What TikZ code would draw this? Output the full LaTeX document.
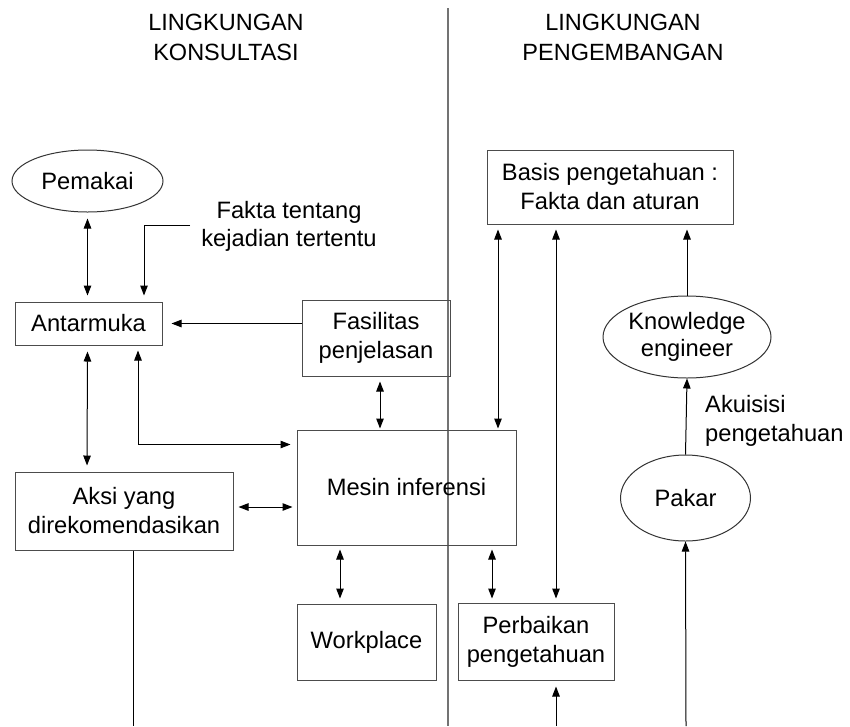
\documentclass[tikz,border=0pt]{standalone}
\usepackage{fontspec}
\setmainfont{Liberation Sans}
\usetikzlibrary{shapes.geometric,arrows.meta,calc}
\begin{document}
\begin{tikzpicture}[x=1pt,y=-1pt,
  txt/.style={font=\fontsize{23.7}{29}\selectfont, align=center, inner sep=0pt},
  boxn/.style={txt, draw=black!70, line width=1pt, rectangle},
  elln/.style={txt, draw=black!80, line width=1pt, ellipse},
  con/.style={line width=1pt, black},
  tip/.style={-{Triangle[length=10pt,width=7.5pt]}},
  bi/.style={{Triangle[length=10pt,width=7.5pt]}-{Triangle[length=10pt,width=7.5pt]}}
]
\useasboundingbox (0,0) rectangle (850,726);
\fill[white] (0,0) rectangle (850,726);

% titles and divider
\node[txt, font=\fontsize{23.5}{30}\selectfont] (t1) at (226,37) {LINGKUNGAN\\KONSULTASI};
\node[txt, font=\fontsize{23.5}{30}\selectfont] (t2) at (623,37) {LINGKUNGAN\\PENGEMBANGAN};
\coordinate (dtop) at (448,8);
\coordinate (dbot) at (448,726);
\draw[line width=1.3pt, black!55] (dtop) -- (dbot);

% nodes
\node[elln, minimum width=151pt, minimum height=62pt] (pemakai) at (87.5,181) {Pemakai};
\node[txt, font=\fontsize{23.7}{28}\selectfont] (fakta) at (289,226) {Fakta tentang\\kejadian tertentu};
\node[boxn, minimum width=147pt, minimum height=43pt] (antar) at (88.5,323.5) {Antarmuka};
\node[boxn, minimum width=148pt, minimum height=76pt] (fas) at (376,338) {Fasilitas\\penjelasan};
\node[boxn, minimum width=218pt, minimum height=78pt] (aksi) at (124,511) {Aksi yang\\direkomendasikan};
\node[boxn, minimum width=219pt, minimum height=115pt] (mesin) at (406.5,487.5) {Mesin inferensi};
\node[boxn, minimum width=139pt, minimum height=76pt] (work) at (366.5,642) {Workplace};
\node[boxn, minimum width=156pt, minimum height=77pt] (perb) at (536,641.5) {Perbaikan\\pengetahuan};
\node[boxn, minimum width=246pt, minimum height=74pt] (basis) at (610,187) {Basis pengetahuan :\\Fakta dan aturan};
\node[elln, minimum width=168pt, minimum height=82pt, font=\fontsize{23.7}{27}\selectfont] (ke) at (687,337) {Knowledge\\engineer};
\node[elln, minimum width=130pt, minimum height=86pt] (pakar) at (685.5,498) {Pakar};
\node[txt, align=left, anchor=west] (akui) at (705,421) {Akuisisi\\pengetahuan};

% free ends
\coordinate (fk) at (190,225);
\coordinate (b1) at (133,726);
\coordinate (b2) at (556,726);
\coordinate (b3) at (686,726);

% connectors
\draw[con,bi,shorten <=6pt,shorten >=6pt] ($(pemakai.south)+(0,0)$) -- ($(antar.north)+(-1,0)$);
\draw[con,tip,shorten >=6pt] (fk) -| ($(antar.north)+(55.5,0)$);
\draw[con,tip,shorten >=9pt] (fas.west |- antar.east) -- (antar.east);
\draw[con,bi,shorten <=6pt,shorten >=6pt] ($(antar.south)+(-1,0)$) -- ($(aksi.north)+(-37,0)$);
\draw[con,bi,shorten <=5pt,shorten >=6pt] ($(antar.south)+(49.5,0)$) |- ($(mesin.north west)+(0,15)$);
\draw[con,bi,shorten <=5pt,shorten >=1pt] ($(fas.south)+(4,0)$) -- ($(mesin.north)+(-26.5,0)$);
\draw[con,bi,shorten <=5pt,shorten >=4pt] (aksi.east |- 0,507) -- (mesin.west |- 0,507);
\draw[con] ($(aksi.south)+(9,0)$) -- (b1);
\draw[con,bi,shorten <=4pt,shorten >=5pt] ($(mesin.south)+(-66.5,0)$) -- ($(work.north)+(-26.5,0)$);
\draw[con,bi,shorten <=4pt,shorten >=4pt] ($(mesin.south)+(85.5,0)$) -- ($(perb.north)+(-44,0)$);
\draw[con,bi,shorten <=5pt,shorten >=1pt] ($(basis.south)+(-112,0)$) -- ($(mesin.north)+(91.5,0)$);
\draw[con,bi,shorten <=5pt,shorten >=4pt] ($(basis.south)+(-54,0)$) -- ($(perb.north)+(20,0)$);
\draw[con,tip,shorten >=6pt] (b2) -- ($(perb.south)+(20,0)$);
\draw[con,tip,shorten >=5pt] (ke.north) -- (basis.south -| ke.north);
\draw[con,tip] (pakar.north) -- (ke.south);
\draw[con,tip] (b3) -- (pakar.south);
\end{tikzpicture}
\end{document}
